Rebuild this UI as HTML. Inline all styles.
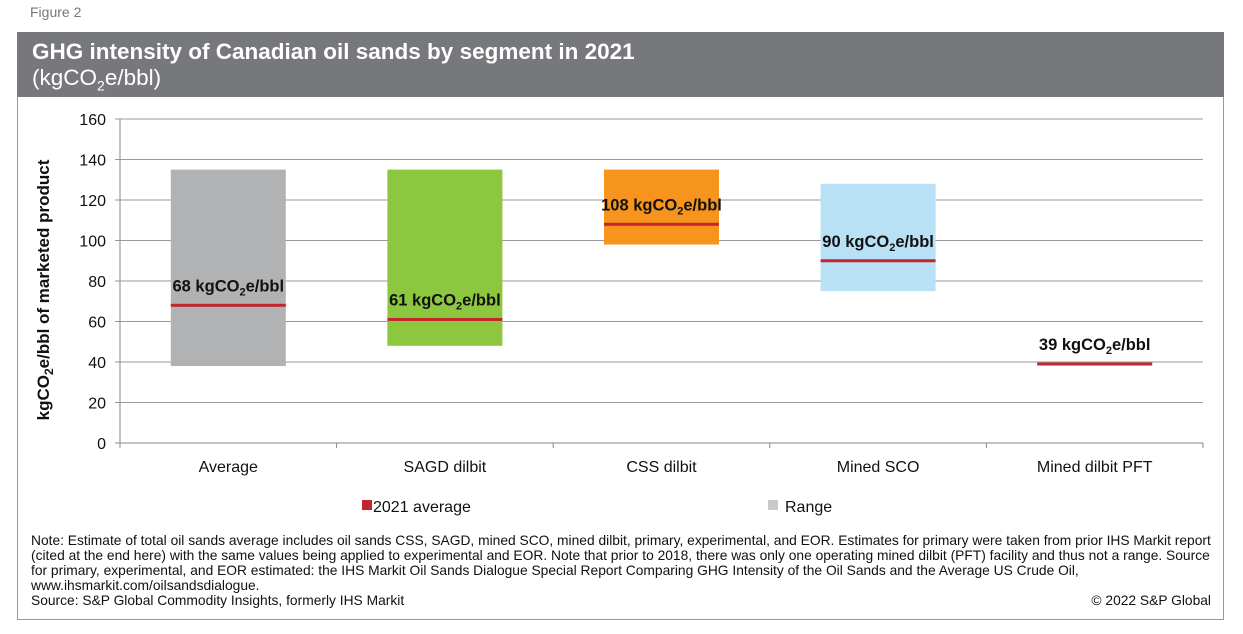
<!DOCTYPE html>
<html><head><meta charset="utf-8"><style>
body{margin:0;width:1243px;height:634px;background:#fff;font-family:"Liberation Sans",Arial,sans-serif;position:relative;overflow:hidden}
.abs{position:absolute}
</style></head><body>
<div class="abs" style="left:30px;top:4px;font-size:14px;color:#777">Figure 2</div>
<div class="abs" style="left:17px;top:32px;width:1207px;height:588px;border:1px solid #999;box-sizing:border-box"></div>
<div class="abs" style="left:17px;top:32px;width:1207px;height:65px;background:#77787b;color:#fff">
 <div style="position:absolute;left:15px;top:7px;font-size:22.5px;font-weight:bold">GHG intensity of Canadian oil sands by segment in 2021</div>
 <div style="position:absolute;left:15px;top:33px;font-size:22.5px">(kgCO<sub style="font-size:14px">2</sub>e/bbl)</div>
</div>
<svg class="abs" style="left:0;top:0" width="1243" height="634" id="chart"></svg>
<div class="abs" style="left:31px;top:533px;white-space:nowrap;font-size:13.8px;line-height:15px;color:#111">Note: Estimate of total oil sands average includes oil sands CSS, SAGD, mined SCO, mined dilbit, primary, experimental, and EOR. Estimates for primary were taken from prior IHS Markit report<br>(cited at the end here) with the same values being applied to experimental and EOR. Note that prior to 2018, there was only one operating mined dilbit (PFT) facility and thus not a range. Source<br>for primary, experimental, and EOR estimated: the IHS Markit Oil Sands Dialogue Special Report Comparing GHG Intensity of the Oil Sands and the Average US Crude Oil,<br>www.ihsmarkit.com/oilsandsdialogue.<br>Source: S&amp;P Global Commodity Insights, formerly IHS Markit</div>
<div class="abs" style="right:32px;top:593px;font-size:13.8px;color:#111">© 2022 S&amp;P Global</div>
<script>
const categories=["Average","SAGD dilbit","CSS dilbit","Mined SCO","Mined dilbit PFT"];
const rangeLow=[38,48,98,75,39];
const rangeHigh=[135,135,135,128,39];
const avgValues=[68,61,108,90,39];
const colors=["#b1b2b4","#8dc63f","#f7941d","#b9e1f5","#b1b2b4"];
const ticks=[0,20,40,60,80,100,120,140,160];
const NS="http://www.w3.org/2000/svg";
const svg=document.getElementById('chart');
const x0=120,x1=1203,yb=443,yt=119;
const y=v=>yb-(v/160)*(yb-yt);
const band=(x1-x0)/categories.length;
const cx=i=>x0+band*(i+0.5);
function mk(t,a){const e=document.createElementNS(NS,t);for(const k in a)e.setAttribute(k,a[k]);svg.appendChild(e);return e;}
ticks.forEach(t=>{
 const g=mk('line',{x1:x0-5,x2:x1,y1:y(t),y2:y(t),stroke:t===0?'#888':'#999','stroke-width':1});
 
 
 const l=mk('text',{x:106,y:y(t)+6,'text-anchor':'end','font-size':16,fill:'#111'});l.textContent=t;
 
 
});
mk('line',{x1:x0,x2:x0,y1:yt,y2:yb,stroke:'#888'});
for(let i=0;i<=categories.length;i++){mk('line',{x1:x0+band*i,x2:x0+band*i,y1:yb,y2:yb+5,stroke:'#888'});}
const yt2=mk('text',{transform:'translate(49,290) rotate(-90)','text-anchor':'middle','font-size':17,'font-weight':'bold',fill:'#111'});
yt2.innerHTML='kgCO<tspan font-size="12" dy="4">2</tspan><tspan dy="-4">e/bbl of marketed product</tspan>';


categories.forEach((c,i)=>{
 const w=115,bx=cx(i)-w/2;
 if(rangeHigh[i]>rangeLow[i]){
  const r=mk('rect',{x:bx,y:y(rangeHigh[i]),width:w,height:y(rangeLow[i])-y(rangeHigh[i]),fill:colors[i]});
  
  
 }
 const ln=mk('rect',{x:bx,y:y(avgValues[i])-1.5,width:w,height:3,fill:'#c1272d'});
 
 
 const lb=mk('text',{x:cx(i),y:y(avgValues[i])-14,'text-anchor':'middle','font-size':16.5,'font-weight':'bold',fill:'#111'});
 lb.innerHTML=avgValues[i]+' kgCO<tspan font-size="11" dy="4">2</tspan><tspan dy="-4">e/bbl</tspan>';
 
 
 const xl=mk('text',{x:cx(i),y:472,'text-anchor':'middle','font-size':16,fill:'#111'});xl.textContent=c;
 
 
});
const l1=mk('rect',{x:362,y:500,width:10,height:10,fill:'#c1272d'});


const t1=mk('text',{x:373,y:512,'font-size':16,fill:'#111'});t1.textContent='2021 average';


const l2=mk('rect',{x:768,y:500,width:10,height:10,fill:'#c8c9cb'});


const t2=mk('text',{x:785,y:512,'font-size':16,fill:'#111'});t2.textContent='Range';


</script>
</body></html>
